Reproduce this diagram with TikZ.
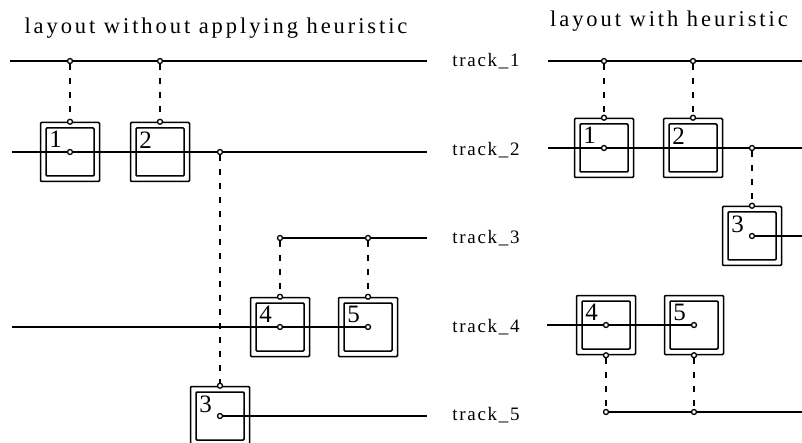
\documentclass[tikz,border=0pt]{standalone}
\usepackage{fontspec}
\usetikzlibrary{backgrounds}
\setmainfont{Liberation Serif}
\newfontfamily\titlefont[LetterSpace=13]{Liberation Serif}
\newfontfamily\labelfont[LetterSpace=9]{Liberation Serif}
\begin{document}
\begin{tikzpicture}[x=1pt,y=-1pt,
  track/.style={line width=1.2pt},
  link/.style={line width=1.2pt, dash pattern=on 6pt off 8pt},
  pin/.style={circle, draw, fill=white, line width=1.3pt, inner sep=0pt, minimum size=5pt},
  cellouter/.style={draw, line width=1.5pt, minimum size=59pt, inner sep=0pt, rounded corners=1pt},
  cellinner/.style={draw, line width=1.5pt, minimum size=48pt, inner sep=0pt, rounded corners=1pt},
  digit/.style={anchor=north west, inner sep=0pt, font=\fontsize{25}{25}\selectfont},
  tracklabel/.style={inner sep=0pt, font=\labelfont\fontsize{19}{19}\selectfont},
  heading/.style={inner sep=0pt, font=\titlefont\fontsize{22.5}{22.5}\selectfont},
  pics/cell/.style={code={
    \node[cellouter] (-o) at (0,0) {};
    \node[cellinner] (-i) at (0,0) {};
    \node[digit] at ([shift={(4,4)}]-i.north west) {#1};
  }}
]
\useasboundingbox (0,0) rectangle (802,443);

% ---------- headings ----------
\node[heading] (h1) at (216,28) {layout without applying heuristic};
\node[heading] (h2) at (669,21) {layout with heuristic};

% ---------- track names ----------
\node[tracklabel] (t1) at (486,61) {track\_1};
\node[tracklabel] (t2) at (486,150) {track\_2};
\node[tracklabel] (t3) at (486,238) {track\_3};
\node[tracklabel] (t4) at (486,327) {track\_4};
\node[tracklabel] (t5) at (486,415) {track\_5};

% ---------- left layout: cells ----------
\pic (L1) at (70,152) {cell=1};
\pic (L2) at (160,152) {cell=2};
\pic (L3) at (220,416) {cell=3};
\pic (L4) at (280,327) {cell=4};
\pic (L5) at (368,327) {cell=5};

% ---------- right layout: cells ----------
\pic (R1) at (604,148) {cell=1};
\pic (R2) at (693,148) {cell=2};
\pic (R3) at (752,236) {cell=3};
\pic (R4) at (606,325) {cell=4};
\pic (R5) at (694,325) {cell=5};

% ---------- free line ends ----------
\coordinate (l1s) at (10,61);   \coordinate (l1e) at (427,61);
\coordinate (l2s) at (12,152);  \coordinate (l2e) at (427,152);
\coordinate (l3e) at (427,238);
\coordinate (l4s) at (12,327);
\coordinate (l5e) at (427,416);
\coordinate (r1s) at (548,61);  \coordinate (r1e) at (802,61);
\coordinate (r2s) at (548,148); \coordinate (r2e) at (802,148);
\coordinate (r3e) at (802,236);
\coordinate (r4s) at (547,325);
\coordinate (r5e) at (802,412);

% ---------- pins on the tracks ----------
\node[pin] (a1) at (70,61) {};
\node[pin] (a2) at (160,61) {};
\node[pin] (a3) at (220,152) {};
\node[pin] (a4) at (280,238) {};
\node[pin] (a5) at (368,238) {};
\node[pin] (b1) at (604,61) {};
\node[pin] (b2) at (693,61) {};
\node[pin] (b3) at (752,148) {};
\node[pin] (b4) at (606,412) {};
\node[pin] (b5) at (694,412) {};

% ---------- terminals on the cells ----------
\foreach \c in {L1,L2,L3,L4,L5,R1,R2,R3}
  \node[pin] (\c-top) at (\c-o.north) {};
\foreach \c in {R4,R5}
  \node[pin] (\c-bot) at (\c-o.south) {};
\foreach \c in {L1,L3,L4,L5,R1,R3,R4,R5}
  \node[pin] (\c-mid) at (\c-o.center) {};

\begin{scope}[on background layer]
% left tracks
\draw[track] (l1s) -- (l1e);
\draw[track] (l2s) -- (l2e);
\draw[track] (a4) -- (l3e);
\draw[track] (l4s) -- (L5-mid);
\draw[track] (L3-mid) -- (l5e);
% right tracks
\draw[track] (r1s) -- (r1e);
\draw[track] (r2s) -- (r2e);
\draw[track] (R3-mid) -- (r3e);
\draw[track] (r4s) -- (R5-mid);
\draw[track] (b4) -- (r5e);
% left feed-throughs
\draw[link] (a1) -- (L1-top);
\draw[link] (a2) -- (L2-top);
\draw[link] (a3) -- (L3-top);
\draw[link] (a4) -- (L4-top);
\draw[link] (a5) -- (L5-top);
% right feed-throughs
\draw[link] (b1) -- (R1-top);
\draw[link] (b2) -- (R2-top);
\draw[link] (b3) -- (R3-top);
\draw[link] (R4-bot) -- (b4);
\draw[link] (R5-bot) -- (b5);
\end{scope}
\end{tikzpicture}
\end{document}
